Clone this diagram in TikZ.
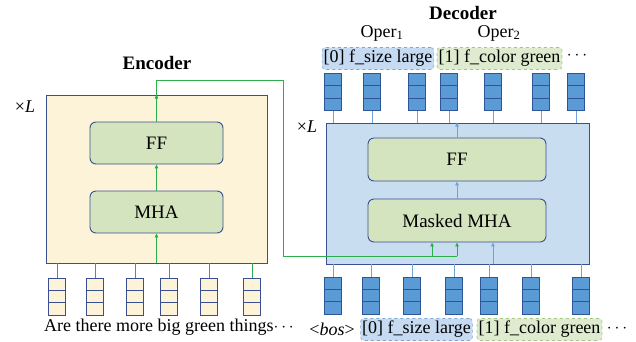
\documentclass[tikz,border=0pt]{standalone}
\usepackage{fontspec}
\setmainfont{Liberation Serif}
\usepackage{tikz}
\usetikzlibrary{arrows.meta,calc}
\definecolor{navy}{HTML}{3A4F92}
\definecolor{encfill}{HTML}{FDF3D8}
\definecolor{decfill}{HTML}{C9DDF1}
\definecolor{blockfill}{HTML}{D4E4BF}
\definecolor{vecblue}{HTML}{5B9BD5}
\definecolor{vecnavy}{HTML}{2E5597}
\definecolor{gline}{HTML}{2DAE4C}
\definecolor{bline}{HTML}{6FA3D8}
\definecolor{tagblue}{HTML}{C6DAF1}
\definecolor{tagblueb}{HTML}{7EA6D6}
\definecolor{taggreen}{HTML}{DFEBCF}
\definecolor{taggreenb}{HTML}{A6C689}

\begin{document}
\begin{tikzpicture}[x=1pt, y=-1pt,
    every node/.style={font=\fontsize{18}{20}\selectfont, inner sep=1pt},
    layer/.style={draw=navy, line width=0.9pt},
    block/.style={draw=navy, fill=blockfill, line width=0.9pt, rounded corners=6pt, minimum width=133pt, minimum height=42pt, font=\fontsize{19}{21}\selectfont},
    cell/.style={draw=#1, line width=0.8pt},
    vec/.style 2 args={draw=#2, fill=#1, line width=0.8pt, minimum width=17pt, minimum height=37pt, inner sep=0pt,
        path picture={
            \draw[#2, line width=0.8pt] ($(path picture bounding box.north west)!1/3!(path picture bounding box.south west)$) -- ($(path picture bounding box.north east)!1/3!(path picture bounding box.south east)$);
            \draw[#2, line width=0.8pt] ($(path picture bounding box.north west)!2/3!(path picture bounding box.south west)$) -- ($(path picture bounding box.north east)!2/3!(path picture bounding box.south east)$);
        }},
    tag/.style 2 args={draw=#2, fill=#1, dashed, line width=0.6pt, rounded corners=3pt, minimum height=22pt, inner sep=1.5pt},
    garrow/.style={draw=gline, line width=0.9pt, -{Triangle[length=4pt, width=3.5pt]}},
    gline/.style={draw=gline, line width=0.9pt},
    barrow/.style={draw=bline, line width=0.9pt, -{Triangle[length=4pt, width=3.5pt]}},
    bline/.style={draw=bline, line width=0.9pt},
    title/.style={font=\bfseries\fontsize{19}{21}\selectfont}
]
\useasboundingbox (0,0) rectangle (636,341);

% encoder
\node[layer, fill=encfill, minimum width=221pt, minimum height=168pt] (enc) at (156.5,179) {};
\node[block] (encff) at (156.5,143) {FF};
\node[block] (encmha) at (156.5,212) {MHA};
\node[title] (enctitle) at (157,63) {Encoder};
\node (encl) at (25,107) {×\textit{L}};
\foreach \x [count=\i] in {57,95,135,169,209,252} {
    \node[vec={encfill}{navy}] (ev\i) at (\x,296.5) {};
    \draw[gline] (ev\i.north) -- (ev\i.north |- enc.south);
}
\node (words) at (169,327) {Are there more big green things$\cdots$};
\draw[garrow] (encmha.south |- enc.south) -- (encmha.south);
\draw[garrow] (encmha.north) -- (encff.south);
\draw[garrow] (encff.north) -- (encff.north |- enc.north);

% decoder
\node[layer, fill=decfill, minimum width=263pt, minimum height=141pt] (dec) at (457.5,193.5) {};
\node[block, minimum width=178pt, minimum height=43pt] (decff) at (457,159.5) {FF};
\node[block, minimum width=178pt, minimum height=43pt] (decmha) at (457,220.5) {Masked MHA};
\node[title] (dectitle) at (463,13) {Decoder};
\node (decl) at (307,127) {×\textit{L}};
\foreach \x [count=\i] in {333,371,412,454,489,531,581} {
    \node[vec={vecblue}{vecnavy}] (dv\i) at (\x,295.5) {};
    \draw[bline] (dv\i.north) -- (dv\i.north |- dec.south);
}
\foreach \x [count=\i] in {333,372,417,449,493,541,576} {
    \node[vec={vecblue}{vecnavy}] (ov\i) at (\x,92) {};
    \draw[bline] (ov\i.south) -- (ov\i.south |- dec.north);
}
\draw[barrow] (decmha.north) -- (decff.south);
\draw[barrow] (decff.north) -- (decff.north |- dec.north);
\coordinate (bstart) at (493,264);
\draw[barrow] (bstart) -- (bstart |- decmha.south);

% encoder -> decoder
\coordinate (up) at (156.5,80);
\coordinate (turn) at (283,80);
\coordinate (low) at (283,256);
\coordinate (split) at (432,256);
\coordinate (mid) at (457,256);
\draw[gline] (encff.north |- enc.north) -- (up) -- (turn) -- (low) -- (mid);
\draw[garrow] (mid) -- (decmha.south);
\draw[garrow] (split) -- (split |- decmha.south);

% output tokens
\node[tag={tagblue}{tagblueb}] (osize) at (378,58.5) {[0] f\_size large};
\node[tag={taggreen}{taggreenb}] (ocolor) at (499.5,58.5) {[1] f\_color green};
\node (odots) at (577,56) {$\cdots$};
\node (oper1) at (382,33) {Oper\textsubscript{1}};
\node (oper2) at (499,33) {Oper\textsubscript{2}};

% input tokens
\node (bos) at (332,329) {<\textit{bos}>};
\node[tag={tagblue}{tagblueb}] (isize) at (416.5,329.5) {[0] f\_size large};
\node[tag={taggreen}{taggreenb}] (icolor) at (539.5,329.5) {[1] f\_color green};
\node (idots) at (617,329) {$\cdots$};
\end{tikzpicture}
\end{document}
